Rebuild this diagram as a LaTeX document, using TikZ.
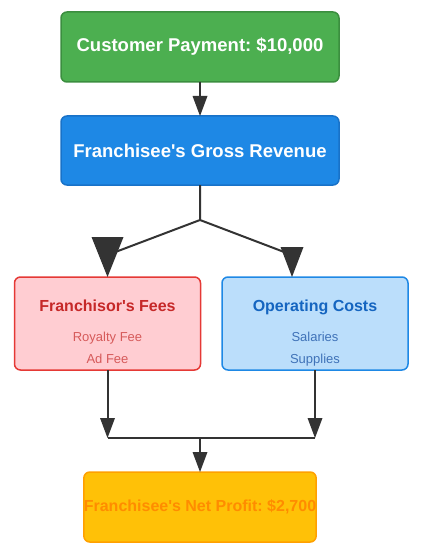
\documentclass[tikz,border=0pt]{standalone}
\usepackage{fontspec}
\setmainfont{Liberation Sans}[Ligatures=TeXOff]
\usepackage{tikz}
\usetikzlibrary{arrows.meta, positioning}
\usepackage{xcolor}
\definecolor{payfill}{HTML}{4CAF50}
\definecolor{paydraw}{HTML}{3B8E3F}
\definecolor{grossfill}{HTML}{1E88E5}
\definecolor{grossdraw}{HTML}{1872C8}
\definecolor{feesfill}{HTML}{FFCDD2}
\definecolor{feesdraw}{HTML}{E53935}
\definecolor{feestitle}{HTML}{C62828}
\definecolor{feesitem}{HTML}{D65A5A}
\definecolor{costsfill}{HTML}{BBDEFB}
\definecolor{costsdraw}{HTML}{1E88E5}
\definecolor{coststitle}{HTML}{1565C0}
\definecolor{costsitem}{HTML}{3F72B8}
\definecolor{profitfill}{HTML}{FFC107}
\definecolor{profitdraw}{HTML}{FFA000}
\definecolor{profittext}{HTML}{FF8C00}
\definecolor{linecol}{HTML}{333333}
\frenchspacing
\tikzset{%
	every box/.style={
		rectangle,
		rounded corners=6pt,
		line width=1.5pt,
		align=center,
		inner sep=0pt,
		outer sep=0pt
	},
	flow/.style={
		draw=linecol,
		line width=2pt
	},
	flow tip/.style={
		flow,
		-{Triangle[length=20pt,width=15pt,line width=0pt]}
	},
}

\begin{document}
\begin{tikzpicture}[
		x=1pt, y=1pt,
		head/.style={every box, minimum width=278pt, text=white,
			font=\fontsize{18.5}{22}\selectfont\bfseries},
		split box/.style={every box, minimum width=186pt, minimum height=93pt,
			font=\fontsize{13}{22}\selectfont}
	]
	\useasboundingbox (0,0) rectangle (421,-556);

	% top of the flow
	\node[head, fill=payfill, draw=paydraw, minimum height=70pt] (pay) at (200,-47)
		{Customer Payment: \$10,000};
	\node[head, fill=grossfill, draw=grossdraw, minimum height=69pt,
		below=34pt of pay] (gross) {Franchisee's Gross Revenue};

	% the two shares
	\node[split box, fill=feesfill, draw=feesdraw, text=feesitem,
		below=92pt of gross.south, xshift=-92.5pt] (fees)
		{\begin{tabular}{c}\rule{0pt}{31pt}{\fontsize{16}{22}\selectfont\bfseries\color{feestitle}Franchisor's Fees}\\[8pt]
			Royalty Fee\\ Ad Fee\\[-3pt]\end{tabular}};
	\node[split box, fill=costsfill, draw=costsdraw, text=costsitem,
		below=92pt of gross.south, xshift=115pt] (costs)
		{\begin{tabular}{c}\rule{0pt}{31pt}{\fontsize{16}{22}\selectfont\bfseries\color{coststitle}Operating Costs}\\[8pt]
			Salaries\\ Supplies\\[-3pt]\end{tabular}};

	\coordinate[below=35pt of gross.south] (split);
	\coordinate[below=68pt of fees.south] (jl);
	\coordinate[below=68pt of costs.south] (jr);
	\coordinate (jm) at (jl -| gross.south);

	% result
	\node[every box, fill=profitfill, draw=profitdraw, text=profittext,
		minimum width=232pt, minimum height=70pt,
		font=\fontsize{16}{20}\selectfont\bfseries,
		below=34pt of jm] (profit) {Franchisee's Net Profit: \$2,700};

	% connectors
	\draw[flow tip] (pay) -- (gross);
	\draw[flow, -{Triangle[length=40pt,width=32pt,line width=0pt]}]
		(gross.south) -- (split) -- ([yshift=22pt]fees.north) -- (fees.north);
	\draw[flow, -{Triangle[length=30pt,width=23pt,line width=0pt]}]
		(split) -- ([xshift=-23pt,yshift=22pt]costs.north) -- ([xshift=-23pt]costs.north);
	\draw[flow tip] (fees.south) -- (jl);
	\draw[flow tip] (costs.south) -- (jr);
	\draw[flow] (jl) -- (jr);
	\draw[flow tip] (jm) -- (profit);

\end{tikzpicture}
\end{document}
